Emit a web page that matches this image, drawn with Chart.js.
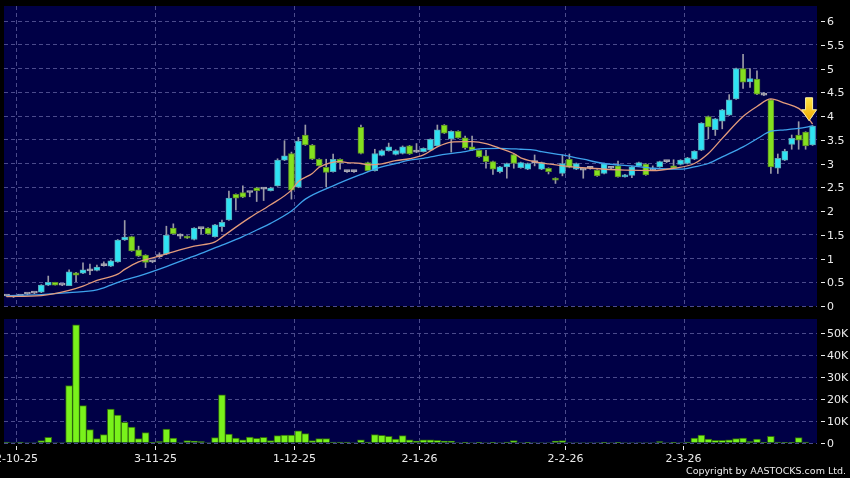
<!DOCTYPE html>
<html>
<head>
<meta charset="utf-8">
<script src="https://cdn.jsdelivr.net/npm/chart.js@4.4.1/dist/chart.umd.min.js"></script>
<style>
html, body { margin: 0; padding: 0; background: #000; }
#wrap { position: relative; width: 850px; height: 478px; overflow: hidden; }
.pane { position: absolute; left: 0; width: 850px; }
</style>
</head>
<body>
<div id="wrap">
  <div class="pane" style="top:0;height:318px"><canvas id="priceChart" width="850" height="318"></canvas></div>
  <div class="pane" style="top:318px;height:160px"><canvas id="volChart" width="850" height="160"></canvas></div>
</div>
<script>
// date gridlines sit between two trading days
var dateTicks = [1.5, 21.5, 41.5, 59.5, 80.5, 97.5];
var dateLabels = ['2-10-25', '3-11-25', '1-12-25', '2-1-26', '2-2-26', '2-3-26'];
var priceTicks = [0, 0.5, 1, 1.5, 2, 2.5, 3, 3.5, 4, 4.5, 5, 5.5, 6];
var priceLabels = ['0', '0.5', '1', '1.5', '2', '2.5', '3', '3.5', '4', '4.5', '5', '5.5', '6'];
var volTicks = [0, 10000, 20000, 30000, 40000, 50000];
var volLabels = ['0', '10K', '20K', '30K', '40K', '50K'];

var opens = [0.21,0.19,0.21,0.25,0.27,0.29,0.44,0.50,0.44,0.43,
    0.70,0.69,0.74,0.75,0.85,0.84,0.93,1.39,1.46,1.18,
    1.07,0.93,1.04,1.09,1.64,1.47,1.47,1.40,1.63,1.64,
    1.46,1.67,1.81,2.35,2.39,2.39,2.49,2.46,2.43,2.53,
    3.07,3.21,2.50,3.60,3.39,3.09,2.92,2.83,3.09,2.83,
    2.83,3.76,3.02,2.85,3.17,3.27,3.19,3.21,3.37,3.24,
    3.25,3.28,3.37,3.81,3.52,3.68,3.54,3.35,3.28,3.16,
    3.04,2.83,2.93,3.19,2.91,2.88,3.02,2.88,2.90,2.69,
    2.79,3.09,2.88,2.86,2.90,2.86,2.79,2.90,2.95,2.72,
    2.75,2.95,2.99,2.86,2.93,3.04,2.95,2.98,3.00,3.09,
    3.28,3.99,3.71,3.89,4.02,4.36,5.00,4.72,4.78,4.44,
    4.34,2.90,3.07,3.40,3.60,3.66,3.39];
var closes = [0.21,0.19,0.21,0.25,0.27,0.44,0.50,0.44,0.44,0.72,
    0.65,0.76,0.74,0.82,0.85,0.95,1.39,1.45,1.16,1.05,
    0.92,0.93,1.04,1.49,1.52,1.47,1.43,1.64,1.63,1.52,
    1.71,1.76,2.27,2.27,2.29,2.39,2.43,2.46,2.48,3.07,
    3.16,2.44,3.47,3.39,3.09,2.95,2.81,3.09,3.02,2.83,
    2.83,3.21,2.85,3.21,3.27,3.35,3.27,3.35,3.20,3.24,
    3.32,3.51,3.71,3.64,3.68,3.54,3.33,3.28,3.14,3.04,
    2.88,2.93,3.00,3.00,3.02,3.00,3.02,3.02,2.83,2.65,
    3.00,2.92,3.00,2.86,2.90,2.74,3.00,2.90,2.72,2.76,
    2.93,3.02,2.76,2.86,3.04,3.04,2.90,3.07,3.12,3.26,
    3.85,3.77,3.94,4.13,4.34,5.00,4.71,4.79,4.46,4.44,
    2.93,3.11,3.26,3.53,3.49,3.37,3.79];
var highs = [0.22,0.20,0.22,0.26,0.28,0.45,0.63,0.50,0.45,0.76,
    0.71,0.91,0.88,0.86,0.93,0.97,1.40,1.80,1.47,1.26,
    1.08,0.95,1.12,1.68,1.73,1.52,1.48,1.65,1.64,1.65,
    1.72,1.81,2.42,2.36,2.53,2.40,2.50,2.48,2.50,3.10,
    3.48,3.24,3.55,3.81,3.40,3.10,3.09,3.20,3.10,2.85,
    2.85,3.81,3.03,3.30,3.29,3.43,3.29,3.37,3.38,3.42,
    3.33,3.52,3.81,3.82,3.69,3.69,3.58,3.58,3.29,3.28,
    3.05,2.94,3.01,3.20,3.03,3.01,3.18,3.03,2.91,2.70,
    3.18,3.20,3.01,2.88,2.92,2.87,3.01,2.92,3.05,2.77,
    2.94,3.03,3.00,2.95,3.05,3.06,3.08,3.08,3.13,3.27,
    3.86,4.00,3.95,4.14,4.45,5.01,5.30,5.00,4.95,4.50,
    4.35,3.20,3.30,3.60,3.88,3.67,3.80];
var lows = [0.20,0.18,0.20,0.24,0.26,0.28,0.43,0.44,0.43,0.43,
    0.51,0.68,0.66,0.74,0.84,0.83,0.92,1.38,1.15,1.04,
    0.81,0.91,1.02,1.08,1.51,1.42,1.42,1.39,1.52,1.51,
    1.45,1.57,1.80,2.02,2.28,2.30,2.20,2.22,2.42,2.52,
    3.06,2.25,2.49,3.38,3.08,2.94,2.51,2.82,2.88,2.81,
    2.81,3.20,2.84,2.84,3.16,3.26,3.18,3.20,3.19,3.23,
    3.24,3.27,3.36,3.63,3.24,3.53,3.30,3.27,3.13,2.90,
    2.77,2.80,2.69,2.90,2.90,2.87,2.95,2.87,2.78,2.58,
    2.74,2.91,2.87,2.69,2.88,2.73,2.78,2.88,2.71,2.71,
    2.70,2.94,2.75,2.85,2.92,3.02,2.89,2.97,2.99,3.08,
    3.27,3.52,3.59,3.73,4.01,4.35,4.58,4.60,4.45,4.43,
    2.79,2.79,3.06,3.30,3.30,3.30,3.38];
var volumes = [450,100,450,100,100,1060,2580,150,100,26200,
    53800,17000,6060,1970,3790,15450,12730,9390,7270,1970,
    4700,300,600,6360,2270,150,1060,900,600,150,
    2420,21970,4090,2270,1500,2730,2120,2580,1060,3330,
    3640,3640,5600,4240,1060,1970,1970,450,450,450,
    150,1500,450,3790,3480,3030,1820,3330,1500,900,
    1500,1500,1200,900,900,150,300,150,300,150,
    300,150,450,1060,150,300,150,150,150,900,
    1060,150,100,150,100,150,300,150,300,100,
    100,100,100,150,600,100,300,150,450,2270,
    3640,1820,1210,1210,1500,1970,2270,600,1820,300,
    3030,450,300,300,2420,450,200];

// moving averages at these day numbers
var ma10Days = [0,5,9,11,13,16,17,19,22,24,27,30,31,33,35,38,41,42,44,45,48,49,51,52,54,56,58,60,62,64,
    66,67,69,71,73,74,76,78,80,84,89,93,96,99,101,103,106,108,110,112,114,115,116];
var ma10 = [0.20,0.22,0.33,0.42,0.54,0.67,0.77,0.93,1.05,1.14,1.26,1.35,1.45,1.66,1.86,2.13,2.44,2.62,2.79,2.92,
    3.04,3.02,3.00,2.97,2.99,3.06,3.10,3.18,3.35,3.45,3.46,3.46,3.42,3.32,3.21,3.12,3.04,2.99,2.95,2.90,
    2.86,2.85,2.90,3.00,3.21,3.53,3.99,4.20,4.36,4.27,4.16,4.02,3.83];
var ma20Days = [0,5,9,13,15,17,19,23,28,31,34,36,38,41,43,47,51,54,56,58,60,63,66,68,71,74,76,77,80,83,
    86,90,93,97,99,101,103,106,108,110,112,114,116];
var ma20 = [0.22,0.24,0.28,0.34,0.44,0.55,0.63,0.83,1.11,1.28,1.46,1.60,1.74,2.00,2.25,2.53,2.77,2.93,3.00,3.07,
    3.11,3.19,3.25,3.31,3.32,3.30,3.28,3.25,3.18,3.09,3.00,2.95,2.90,2.88,2.93,3.00,3.14,3.35,3.52,3.68,
    3.71,3.74,3.79];

var arrowAt = {day: 115.5, price: 3.9};

var gridColor = '#4b4b8c';
var textColor = '#ececec';
var labelFont = '11px "DejaVu Sans"';

function upColor(i) {
    if (closes[i] > opens[i]) return '#2fe3f3';
    if (closes[i] < opens[i]) return '#84e01f';
    return '#a9a9b4';
}
function edgeColor(i) {
    if (closes[i] > opens[i]) return '#5aa8b8';
    if (closes[i] < opens[i]) return '#5c8f25';
    return '#a9a9b4';
}

function xScaleOpts() {
    return {
        type: 'linear',
        min: -0.37,
        max: 116.64,
        offset: false,
        grid: { color: gridColor, lineWidth: 1, drawTicks: false, offset: false },
        border: { display: false, dash: [4, 3] },
        ticks: { display: false },
        afterBuildTicks: function(s) {
            s.ticks = dateTicks.map(function(v) { return {value: v}; });
        }
    };
}

var panelBg = {
    id: 'panelBg',
    beforeDraw: function(chart) {
        var c = chart.ctx, a = chart.chartArea;
        c.save();
        c.fillStyle = '#000';
        c.fillRect(0, 0, chart.width, chart.height);
        c.fillStyle = '#000046';
        c.fillRect(a.left, a.top, a.right - a.left, a.bottom - a.top);
        c.restore();
    }
};

function drawRightLabels(chart, values, texts) {
    var c = chart.ctx, a = chart.chartArea, ys = chart.scales.y;
    c.save();
    c.fillStyle = textColor;
    c.strokeStyle = textColor;
    c.lineWidth = 1;
    c.font = labelFont;
    c.textAlign = 'left';
    c.textBaseline = 'middle';
    for (var k = 0; k < values.length; k++) {
        var y = Math.round(ys.getPixelForValue(values[k])) + 0.5;
        c.beginPath();
        c.moveTo(a.right + 4, y);
        c.lineTo(a.right + 8, y);
        c.stroke();
        c.fillText(texts[k], a.right + 10, y + 1);
    }
    c.restore();
}

var priceLabelsPlugin = {
    id: 'priceLabels',
    afterDraw: function(chart) {
        drawRightLabels(chart, priceTicks, priceLabels);
        // yellow marker arrow over the last sessions
        var c = chart.ctx;
        var x = chart.scales.x.getPixelForValue(arrowAt.day);
        var y = chart.scales.y.getPixelForValue(arrowAt.price);
        var g = c.createLinearGradient(0, y - 24, 0, y);
        g.addColorStop(0, '#ffe84a');
        g.addColorStop(1, '#f0a800');
        c.save();
        c.fillStyle = g;
        c.strokeStyle = '#fff2a0';
        c.lineWidth = 1;
        c.beginPath();
        c.moveTo(x - 3.5, y - 23);
        c.lineTo(x + 3.5, y - 23);
        c.lineTo(x + 3.5, y - 11);
        c.lineTo(x + 7.5, y - 11);
        c.lineTo(x, y);
        c.lineTo(x - 7.5, y - 11);
        c.lineTo(x - 3.5, y - 11);
        c.closePath();
        c.fill();
        c.stroke();
        c.restore();
    }
};

var volLabelsPlugin = {
    id: 'volLabels',
    afterDraw: function(chart) {
        drawRightLabels(chart, volTicks, volLabels);
        var c = chart.ctx, a = chart.chartArea, xs = chart.scales.x;
        c.save();
        c.fillStyle = textColor;
        c.strokeStyle = textColor;
        c.font = labelFont;
        c.textAlign = 'center';
        c.textBaseline = 'middle';
        for (var k = 0; k < dateTicks.length; k++) {
            var x = Math.round(xs.getPixelForValue(dateTicks[k])) - 0.5;
            c.beginPath();
            c.moveTo(x, a.bottom + 3);
            c.lineTo(x, a.bottom + 7);
            c.stroke();
            c.fillText(dateLabels[k], x, a.bottom + 16);
        }
        c.font = '9.5px "DejaVu Sans"';
        c.textAlign = 'right';
        c.fillText('Copyright by AASTOCKS.com Ltd.', 846, a.bottom + 29);
        c.restore();
    }
};

var days = opens.map(function(v, i) { return i; });

var priceChart = new Chart(document.getElementById('priceChart').getContext('2d'), {
    data: {
        datasets: [{
            type: 'line',
            label: 'MA10',
            data: ma10Days.map(function(d, k) { return {x: d, y: ma10[k]}; }),
            borderColor: '#e39b7b',
            borderWidth: 1.3,
            pointRadius: 0,
            cubicInterpolationMode: 'monotone',
            order: 0
        }, {
            type: 'line',
            label: 'MA20',
            data: ma20Days.map(function(d, k) { return {x: d, y: ma20[k]}; }),
            borderColor: '#3ea2ec',
            borderWidth: 1.3,
            pointRadius: 0,
            cubicInterpolationMode: 'monotone',
            order: 1
        }, {
            type: 'bar',
            label: 'body',
            data: days.map(function(i) { return {x: i, y: [opens[i], closes[i]]}; }),
            backgroundColor: days.map(upColor),
            borderColor: days.map(edgeColor),
            borderWidth: 1,
            borderSkipped: false,
            barThickness: 6,
            minBarLength: 2,
            grouped: false,
            order: 2
        }, {
            type: 'bar',
            label: 'wick',
            data: days.map(function(i) { return {x: i, y: [lows[i], highs[i]]}; }),
            backgroundColor: '#9a9aa6',
            barThickness: 1,
            grouped: false,
            order: 3
        }]
    },
    options: {
        responsive: false,
        animation: false,
        events: [],
        layout: { padding: {left: 4, right: 33, top: 6, bottom: 12} },
        plugins: { legend: {display: false}, tooltip: {enabled: false} },
        scales: {
            x: xScaleOpts(),
            y: {
                type: 'linear',
                position: 'right',
                min: 0,
                max: 6.316,
                grid: { color: gridColor, lineWidth: 1, drawTicks: false },
                border: { display: false, dash: [4, 3] },
                ticks: { display: false },
                afterBuildTicks: function(s) {
                    s.ticks = priceTicks.map(function(v) { return {value: v}; });
                }
            }
        }
    },
    plugins: [panelBg, priceLabelsPlugin]
});

var volChart = new Chart(document.getElementById('volChart').getContext('2d'), {
    type: 'bar',
    data: {
        datasets: [{
            label: 'Volume',
            data: days.map(function(i) { return {x: i, y: volumes[i]}; }),
            backgroundColor: '#79f21b',
            borderColor: '#2f6a0c',
            borderWidth: {left: 1, right: 1, top: 1, bottom: 0},
            barThickness: 7,
            grouped: false
        }]
    },
    options: {
        responsive: false,
        animation: false,
        events: [],
        layout: { padding: {left: 4, right: 33, top: 1, bottom: 35} },
        plugins: { legend: {display: false}, tooltip: {enabled: false} },
        scales: {
            x: xScaleOpts(),
            y: {
                type: 'linear',
                position: 'right',
                min: 0,
                max: 56500,
                grid: { color: gridColor, lineWidth: 1, drawTicks: false },
                border: { display: false, dash: [4, 3] },
                ticks: { display: false },
                afterBuildTicks: function(s) {
                    s.ticks = volTicks.map(function(v) { return {value: v}; });
                }
            }
        }
    },
    plugins: [panelBg, volLabelsPlugin]
});
</script>
</body>
</html>
